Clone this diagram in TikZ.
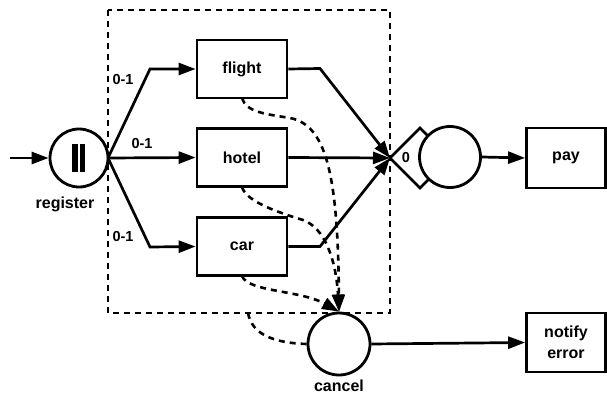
\documentclass[tikz,border=0pt]{standalone}
\usepackage{fontspec}
\setmainfont{Liberation Sans}
\usetikzlibrary{arrows.meta}
\begin{document}
\begin{tikzpicture}[x=1pt,y=-1pt,
  every node/.style={font=\bfseries\fontsize{16}{20}\selectfont, inner sep=0pt},
  ln/.style={line width=2.7pt, line join=miter},
  arr/.style={ln, -{Triangle[length=17pt,width=12pt]}},
  darr/.style={line width=2.6pt, dash pattern=on 6pt off 5pt, -{Triangle[length=17pt,width=12pt]}},
  dln/.style={line width=2.6pt, dash pattern=on 6pt off 5pt},
  task/.style={draw, line width=2.8pt, minimum width=90pt, minimum height=58pt},
  evt/.style={draw, circle, line width=2.8pt, fill=white, minimum size=60pt},
  lbl/.style={font=\bfseries\fontsize{14.5}{16}\selectfont}]
\useasboundingbox (0,0) rectangle (607,398);

% scope box
\draw[dln] (108,10) rectangle (390,313);

% register
\node[evt, minimum size=58pt] (reg) at (79,158) {};
\fill (72,144) rectangle (77.5,172);
\fill (79.5,144) rectangle (85,172);
\node at (65,204) (regl) {register};
\coordinate (in) at (10,158);
\draw[arr] (in) -- (reg.west);

% tasks
\node[task] (f) at (242,69) {flight};
\node[task] (h) at (242,157.5) {hotel};
\node[task] (c) at (242,246.5) {car};

\coordinate (rp) at (108,158);
\draw[arr] (rp) -- (150,69) -- (f.west);
\draw[arr] (rp) -- (h.west);
\draw[arr] (rp) -- (150,247) -- (c.west);
\node[lbl] at (123,80) {0-1};
\node[lbl] at (142,144) {0-1};
\node[lbl] at (123,237) {0-1};

% join
\coordinate (jt) at (390,158);
\draw[ln] (jt) -- (420,128) -- (450,158) -- (420,188) -- cycle;
\node[evt, minimum size=61pt] (j) at (450,157) {};
\node[lbl] at (406,158) {0};
\draw[arr] (f.east) -- (320,68.5) -- (jt);
\draw[arr] (h.east) -- (jt);
\draw[arr] (c.east) -- (320,246.5) -- (jt);

% pay
\node[task, minimum width=79pt, minimum height=60pt] (pay) at (566,158) {pay};
\draw[arr] (j.east) -- (pay.west);

% cancel
\node[evt, minimum size=62pt] (can) at (339,344) {};
\node at (339,386) (canl) {cancel};
\node[task, minimum width=79pt, minimum height=59pt, align=center] (ne) at (566,342.5) {notify\\[1pt]error};
\draw[arr] (can.east) -- (ne.west);

% compensation arrows
\draw[darr] (242,98) .. controls (246,112) and (265,114) .. (290,118)
  .. controls (325,125) and (338,170) .. (can.north);
\draw[darr] (242,187) .. controls (246,200) and (270,210) .. (303,220)
  .. controls (325,228) and (336,260) .. (can.north);
\draw[darr] (242,276) .. controls (248,292) and (300,290) .. (can.north);
\coordinate (sb) at (248,313);
\draw[dln] (sb) .. controls (252,335) and (275,343) .. (can.west);
\end{tikzpicture}
\end{document}
